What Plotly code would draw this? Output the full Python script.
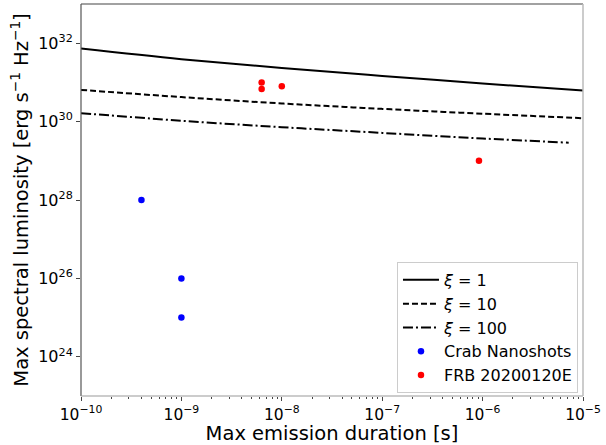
import plotly.graph_objects as go

# ---- data ----
t_curve = [1e-10, 1e-9, 1e-8, 1e-7, 1e-6, 1e-5]
L_xi1 = [7.28e31, 3.91e31, 2.32e31, 1.46e31, 9.4e30, 6.2e30]
L_xi10 = [6.44e30, 4.22e30, 2.90e30, 2.11e30, 1.59e30, 1.22e30]
t_curve100 = [1e-10, 1e-9, 1e-8, 1e-7, 1e-6, 7.2e-6]
L_xi100 = [1.64e30, 1.05e30, 7.2e29, 5.15e29, 3.7e29, 2.9e29]

crab_t = [4.0e-10, 1e-9, 1e-9]
crab_L = [1e28, 1e26, 1e25]

frb_t = [6.3e-9, 6.3e-9, 1.0e-8, 9.2e-7]
frb_L = [1.0e31, 6.8e30, 8.0e30, 1.0e29]

x_tickvals = [1e-10, 1e-9, 1e-8, 1e-7, 1e-6, 1e-5]
x_ticktext = ["10<sup>−10</sup>", "10<sup>−9</sup>", "10<sup>−8</sup>",
              "10<sup>−7</sup>", "10<sup>−6</sup>", "10<sup>−5</sup>"]
y_tickvals = [1e24, 1e26, 1e28, 1e30, 1e32]
y_ticktext = ["10<sup>24</sup>", "10<sup>26</sup>", "10<sup>28</sup>",
              "10<sup>30</sup>", "10<sup>32</sup>"]

x_minor = [k * 10.0 ** e for e in range(-10, -5) for k in range(2, 10)]

FONT = "DejaVu Sans"

fig = go.Figure()
fig.add_trace(go.Scatter(x=t_curve, y=L_xi1, mode="lines", name="<i>ξ</i> = 1",
                         line=dict(color="black", width=2, shape="spline")))
fig.add_trace(go.Scatter(x=t_curve, y=L_xi10, mode="lines", name="<i>ξ</i> = 10",
                         line=dict(color="black", width=2, dash="6px,3px", shape="spline")))
fig.add_trace(go.Scatter(x=t_curve100, y=L_xi100, mode="lines", name="<i>ξ</i> = 100",
                         line=dict(color="black", width=2, dash="10px,3px,2px,3px", shape="spline")))
fig.add_trace(go.Scatter(x=crab_t, y=crab_L, mode="markers", name="Crab Nanoshots",
                         marker=dict(color="#0000ff", size=6.5)))
fig.add_trace(go.Scatter(x=frb_t, y=frb_L, mode="markers", name="FRB 20200120E",
                         marker=dict(color="#ff0000", size=6.5)))

fig.update_layout(
    width=606, height=445,
    margin=dict(l=81, r=23, t=4, b=49),
    paper_bgcolor="white", plot_bgcolor="white",
    font=dict(family=FONT, color="black", size=15),
    showlegend=True,
    legend=dict(x=0.99, y=0.342, xanchor="right", yanchor="top", itemwidth=36,
                bgcolor="rgba(255,255,255,0.8)", bordercolor="#cccccc", borderwidth=1,
                font=dict(family=FONT, size=16)),
    xaxis=dict(type="log", range=[-10, -5], showgrid=False, zeroline=False,
               automargin=False,
               tickmode="array", tickvals=x_tickvals, ticktext=x_ticktext,
               ticks="outside", ticklen=4, tickwidth=1, tickcolor="#444",
               tickfont=dict(size=15.5),
               minor=dict(tickvals=x_minor, ticks="outside", ticklen=2, tickcolor="#444", tickwidth=1),
               showline=False,
               title=dict(text="Max emission duration [s]", font=dict(size=19.5), standoff=2)),
    yaxis=dict(type="log", range=[23, 33], showgrid=False, zeroline=False,
               automargin=False,
               tickmode="array", tickvals=y_tickvals, ticktext=y_ticktext,
               ticks="outside", ticklen=4, tickwidth=1, tickcolor="#444",
               tickfont=dict(size=16), showline=False,
               title=dict(text="Max spectral luminosity [erg s<sup>−1</sup> Hz<sup>−1</sup>]",
                          font=dict(size=19.5), standoff=4)),
    shapes=[
        dict(type="line", xref="paper", yref="paper", x0=0, x1=1, y0=1, y1=1,
             line=dict(color="#444", width=1.2)),
        dict(type="line", xref="paper", yref="paper", x0=0, x1=0, y0=0, y1=1,
             line=dict(color="#555", width=1.2)),
        dict(type="line", xref="paper", yref="paper", x0=0, x1=1, y0=0, y1=0,
             line=dict(color="#999", width=1.2)),
        dict(type="line", xref="paper", yref="paper", x0=1, x1=1, y0=0, y1=1,
             line=dict(color="#bbb", width=1.5)),
    ],
)

fig.write_html("out.html", config={"displayModeBar": False},
               post_script="document.body.style.margin='0';document.body.style.padding='0';")
